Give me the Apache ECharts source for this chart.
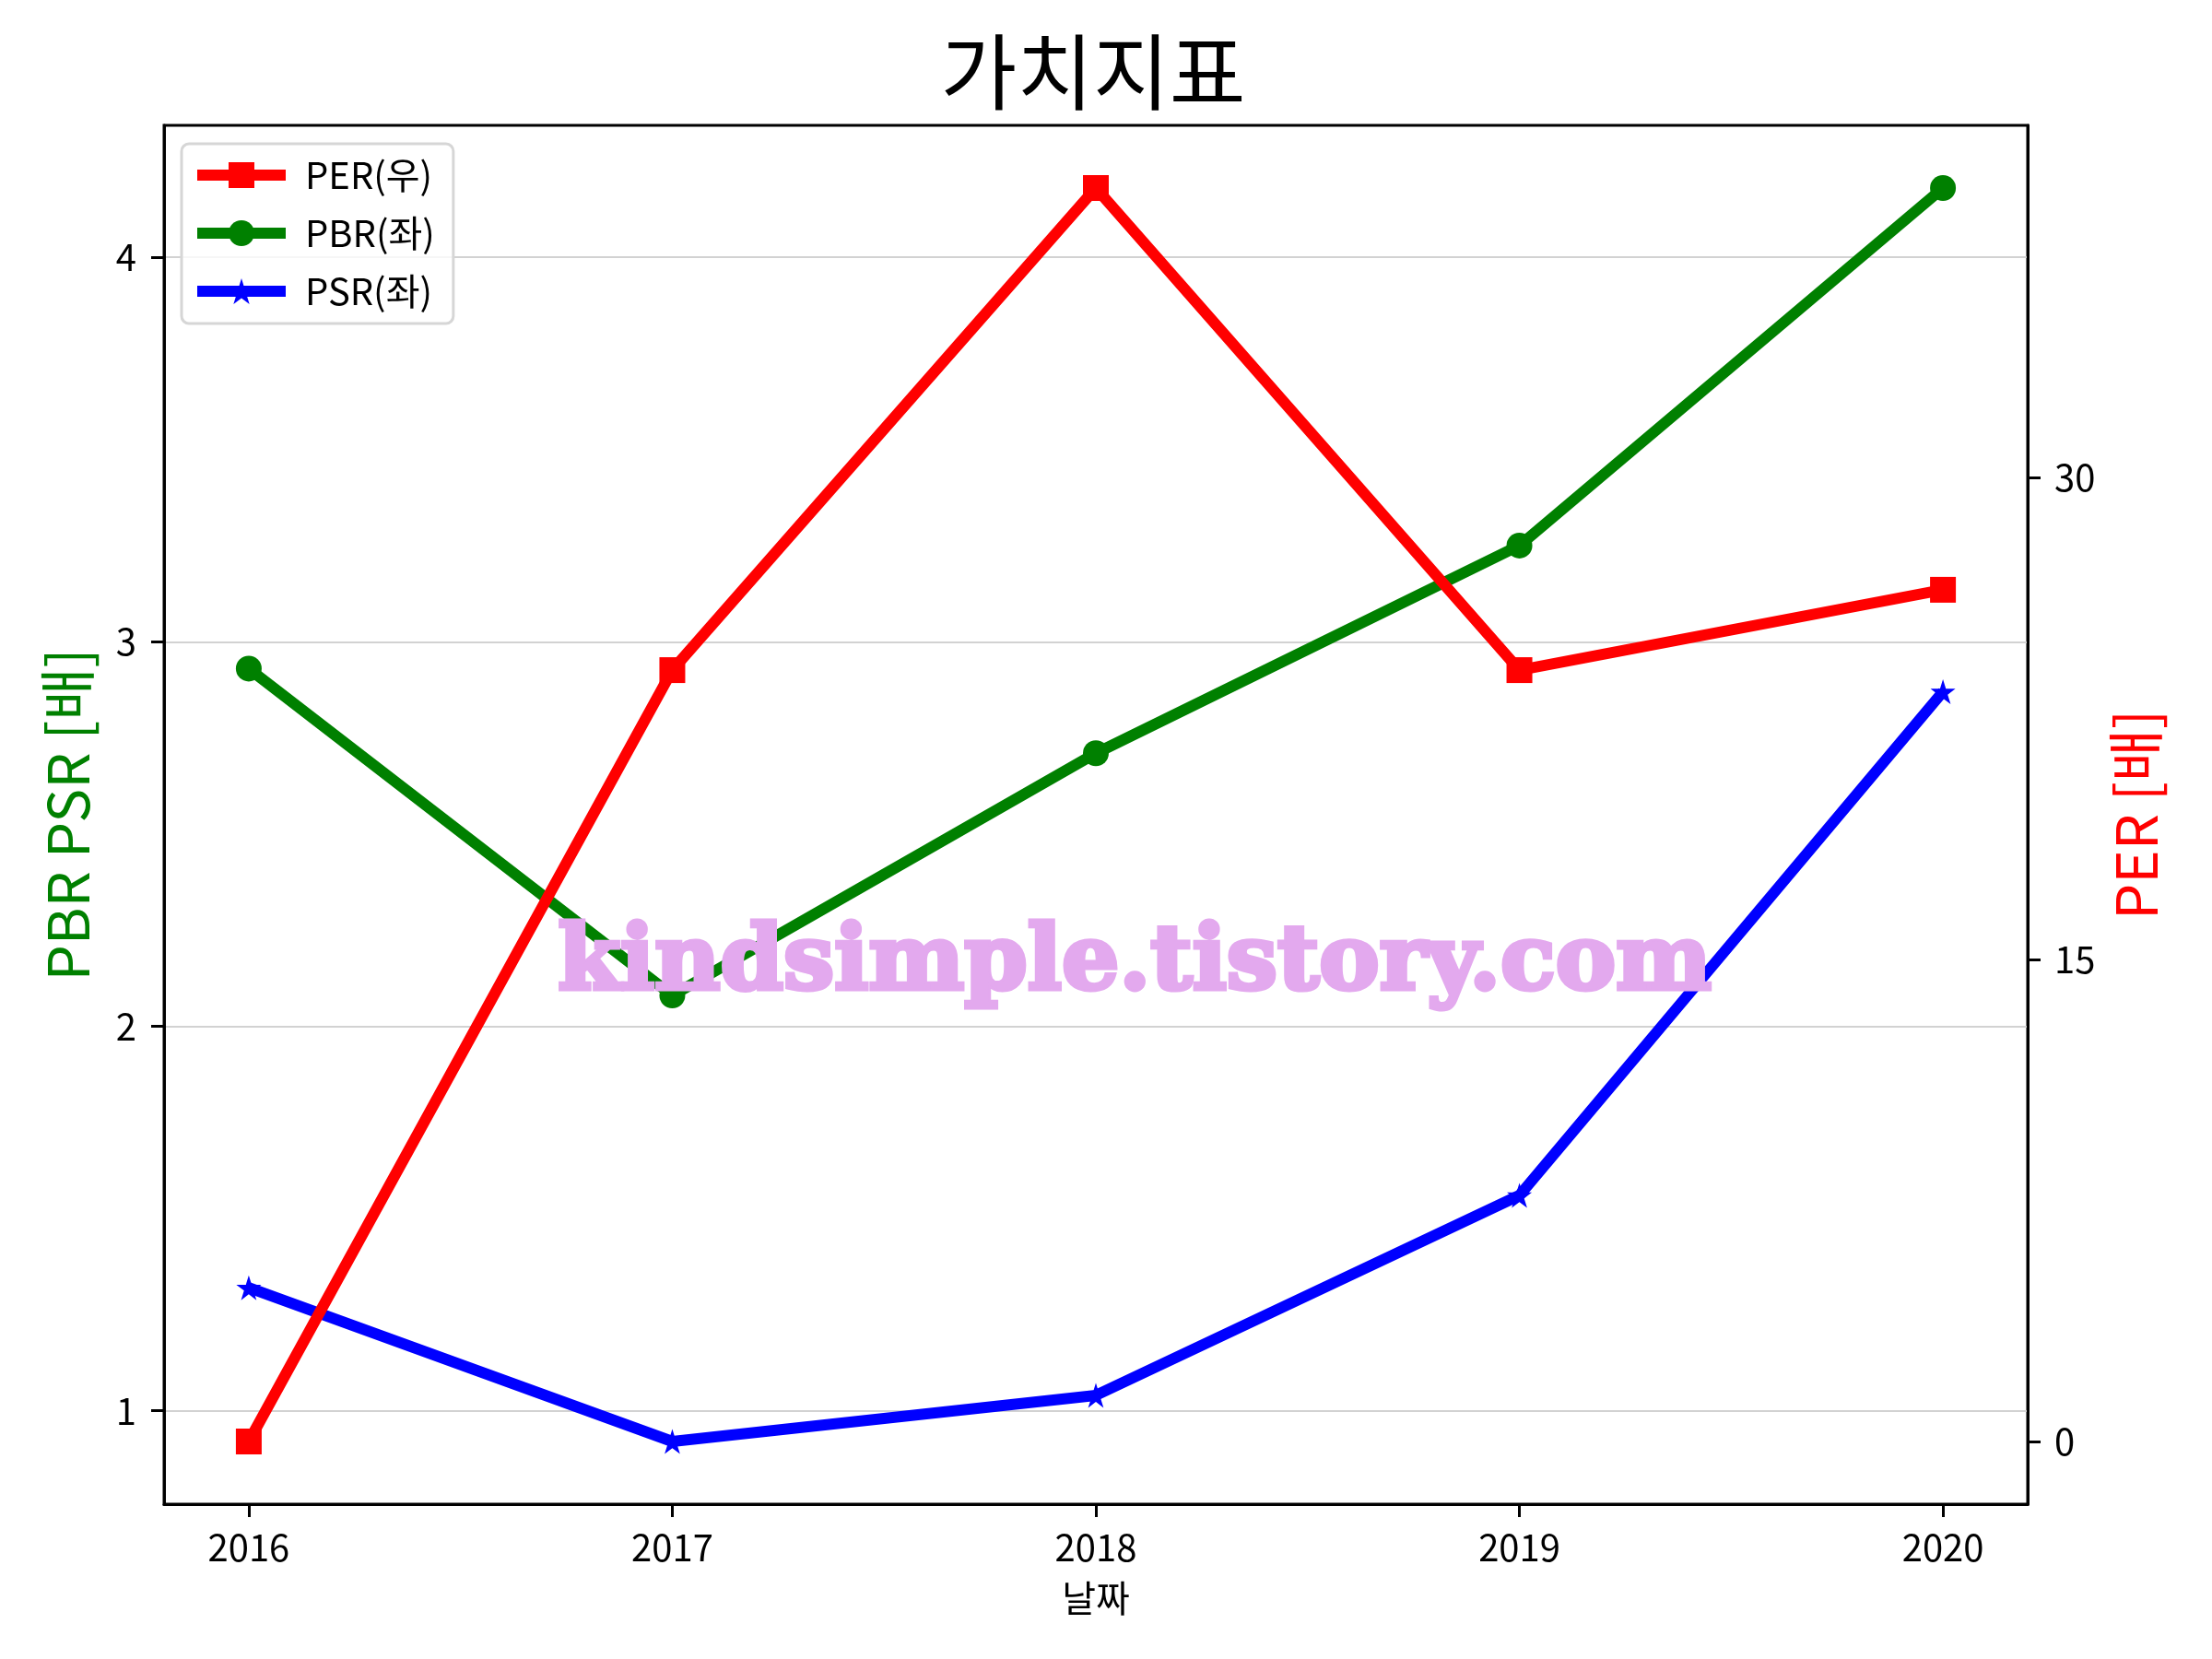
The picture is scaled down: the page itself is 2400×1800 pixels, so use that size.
<!DOCTYPE html>
<html>
<head>
<meta charset="utf-8">
<script src="https://cdn.jsdelivr.net/npm/echarts@6/dist/echarts.min.js"></script>
<style>
  html, body { margin: 0; padding: 0; background: #fff; }
  #chart { width: 2400px; height: 1800px; }
</style>
</head>
<body>
<div id="chart"></div>
<script>
// 연도별 가치지표
const years = [2016, 2017, 2018, 2019, 2020]
const perValues = [0, 24.0, 39.0, 24.0, 26.5]   // 오른쪽 축
const pbrValues = [2.93, 2.08, 2.71, 3.25, 4.18] // 왼쪽 축
const psrValues = [1.32, 0.92, 1.04, 1.56, 2.87] // 왼쪽 축

const xTicks = [2016, 2017, 2018, 2019, 2020]
const leftTicks = [1, 2, 3, 4]
const rightTicks = [0, 15, 30]

const FONT = '"Noto Sans CJK KR", "Noto Sans", sans-serif'

// matplotlib 처럼 양쪽 5% 여백
function padRange(values) {
  const lo = Math.min(...values)
  const hi = Math.max(...values)
  const m = (hi - lo) * 0.05
  return [lo - m, hi + m]
}
const xRange = padRange(years)
const leftRange = padRange(pbrValues.concat(psrValues))
const rightRange = padRange(perValues)

const pairs = vals => years.map((y, i) => [y, vals[i]])

const starPath = 'path://M100,0 L122.45,69.1 L195.1,69.1 L136.3,111.8 L158.8,180.9 L100,138.2 L41.2,180.9 L63.7,111.8 L4.9,69.1 L77.55,69.1 Z'

const chart = echarts.init(document.getElementById('chart'))

const axisLineStyle = { show: true, onZero: false, lineStyle: { color: '#000', width: 3 } }
const tickStyle = { show: true, length: 14, lineStyle: { color: '#000', width: 3 } }
const labelStyle = { color: '#000', fontSize: 40, fontFamily: FONT, formatter: v => String(v) }

chart.setOption({
  animation: false,
  backgroundColor: '#fff',
  title: {
    text: '가치지표',
    left: 1181,
    top: 28,
    textAlign: 'center',
    textStyle: { fontSize: 90, fontWeight: 'normal', color: '#000', fontFamily: FONT }
  },
  legend: {
    data: ['PER(우)', 'PBR(좌)', 'PSR(좌)'],
    orient: 'vertical',
    left: 197,
    top: 156,
    itemWidth: 96,
    itemHeight: 35,
    itemGap: 23,
    padding: [14, 20, 15, 11],
    borderColor: '#d6d6d6',
    borderWidth: 3,
    borderRadius: 8,
    backgroundColor: 'rgba(255,255,255,0.8)',
    lineStyle: { width: 12 },
    textStyle: { fontSize: 40, color: '#000', fontFamily: FONT, padding: [0, 0, 0, 16] }
  },
  grid: {
    left: 178, right: 200, top: 136, bottom: 168,
    show: true, borderColor: '#000', borderWidth: 3
  },
  xAxis: {
    type: 'value',
    min: xRange[0],
    max: xRange[1],
    name: '날짜',
    nameLocation: 'middle',
    nameGap: 82,
    nameTextStyle: { fontSize: 40, color: '#000', fontFamily: FONT },
    axisLine: axisLineStyle,
    axisTick: Object.assign({}, tickStyle, { customValues: xTicks }),
    axisLabel: Object.assign({}, labelStyle, { customValues: xTicks, margin: 27 }),
    splitLine: { show: false }
  },
  yAxis: [
    {
      type: 'value',
      position: 'left',
      min: leftRange[0],
      max: leftRange[1],
      name: 'PBR PSR [배]',
      nameLocation: 'middle',
      nameRotate: 90,
      nameGap: 74,
      nameTextStyle: { fontSize: 62, color: 'green', fontFamily: FONT },
      axisLine: axisLineStyle,
      axisTick: Object.assign({}, tickStyle, { customValues: leftTicks }),
      axisLabel: Object.assign({}, labelStyle, { customValues: leftTicks, margin: 30 }),
      splitLine: { show: true, lineStyle: { color: '#d2d2d2', width: 2 } }
    },
    {
      type: 'value',
      position: 'right',
      min: rightRange[0],
      max: rightRange[1],
      name: 'PER [배]',
      nameLocation: 'middle',
      nameRotate: 90,
      nameGap: 86,
      nameTextStyle: { fontSize: 62, color: 'red', fontFamily: FONT },
      axisLine: axisLineStyle,
      axisTick: Object.assign({}, tickStyle, { customValues: rightTicks }),
      axisLabel: Object.assign({}, labelStyle, { customValues: rightTicks, margin: 29 }),
      splitLine: { show: false }
    }
  ],
  series: [
    {
      name: 'PER(우)',
      type: 'line',
      yAxisIndex: 1,
      z: 4,
      data: pairs(perValues),
      symbol: 'rect',
      symbolSize: 28,
      lineStyle: { color: 'red', width: 12, join: 'round' },
      itemStyle: { color: 'red' }
    },
    {
      name: 'PBR(좌)',
      type: 'line',
      yAxisIndex: 0,
      z: 3,
      data: pairs(pbrValues),
      symbol: 'circle',
      symbolSize: 28,
      lineStyle: { color: 'green', width: 12, join: 'round' },
      itemStyle: { color: 'green' }
    },
    {
      name: 'PSR(좌)',
      type: 'line',
      yAxisIndex: 0,
      z: 3,
      data: pairs(psrValues),
      symbol: starPath,
      symbolSize: 27,
      lineStyle: { color: 'blue', width: 12, join: 'round' },
      itemStyle: { color: 'blue' }
    }
  ],
  graphic: [
    {
      type: 'text',
      z: 100,
      x: 1231,
      y: 1048,
      style: {
        text: 'kindsimple.tistory.com',
        fill: '#e3a9ee',
        stroke: '#e3a9ee',
        lineWidth: 5,
        font: 'bold 98px "DejaVu Serif"',
        align: 'center',
        verticalAlign: 'middle'
      }
    }
  ]
})
</script>
</body>
</html>
